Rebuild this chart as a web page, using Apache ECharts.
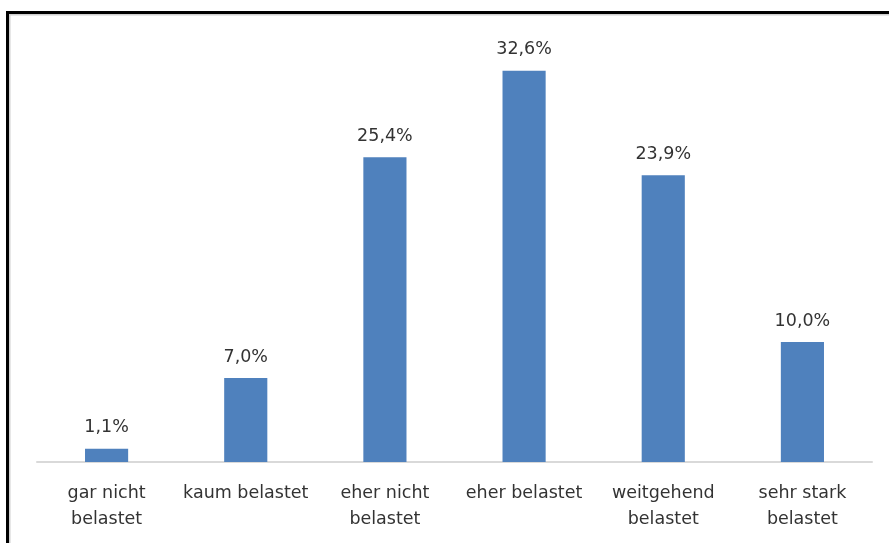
<!DOCTYPE html>
<html>
<head>
<meta charset="utf-8">
<script src="https://cdn.jsdelivr.net/npm/echarts@6/dist/echarts.min.js"></script>
<style>
html,body{margin:0;padding:0;background:#fff;}
#chart{width:889px;height:543px;}
</style>
</head>
<body>
<div id="chart"></div>
<script>
const categories = ['gar nicht\nbelastet', 'kaum belastet', 'eher nicht\nbelastet', 'eher belastet', 'weitgehend\nbelastet', 'sehr stark\nbelastet'];
const values = [1.1, 7.0, 25.4, 32.6, 23.9, 10.0];

const chart = echarts.init(document.getElementById('chart'), null, {renderer: 'canvas'});
const fontFamily = "'DejaVu Sans', sans-serif";
chart.setOption({
  animation: false,
  backgroundColor: '#ffffff',
  graphic: [
    {type: 'rect', silent: true, shape: {x: 9.5, y: 14.5, width: 900, height: 600}, style: {fill: 'none', stroke: '#d0d0d0', lineWidth: 2}},
    {type: 'rect', silent: true, shape: {x: 7.5, y: 12.5, width: 900, height: 600}, style: {fill: 'none', stroke: '#000000', lineWidth: 3}}
  ],
  grid: {left: 37, right: 17, top: 42, bottom: 81, containLabel: false},
  xAxis: {
    type: 'category',
    data: categories,
    axisLine: {show: true, lineStyle: {color: '#d9d9d9', width: 2}},
    axisTick: {show: false},
    axisLabel: {color: '#333333', fontSize: 17.5, fontFamily: fontFamily, margin: 18, lineHeight: 26, interval: 0}
  },
  yAxis: {
    type: 'value',
    min: 0,
    max: 35,
    show: false,
    splitLine: {show: false}
  },
  series: [{
    type: 'bar',
    data: values,
    barWidth: '31%',
    itemStyle: {color: '#4F81BD'},
    label: {
      show: true,
      position: 'top',
      distance: 12,
      color: '#333333',
      fontSize: 17.5,
      fontFamily: fontFamily,
      formatter: p => p.value.toFixed(1).replace('.', ',') + '%'
    }
  }]
});
</script>
</body>
</html>
